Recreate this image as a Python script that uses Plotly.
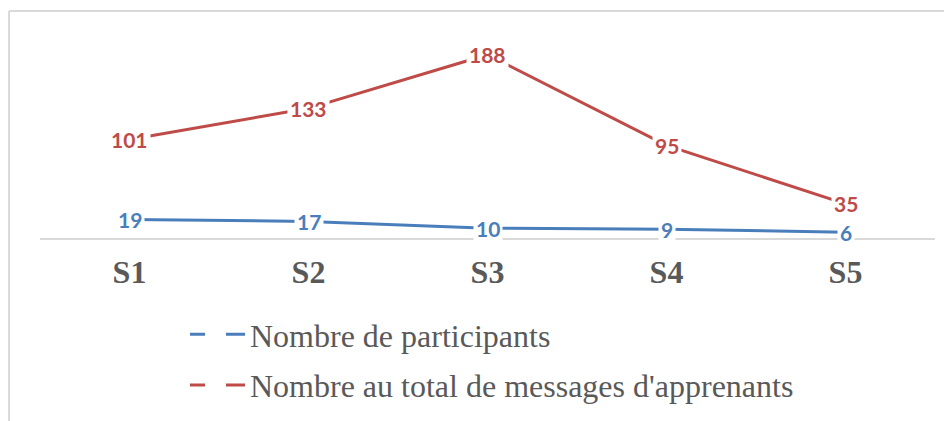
import plotly.graph_objects as go

categories = ["S1", "S2", "S3", "S4", "S5"]
participants = [19, 17, 10, 9, 6]
messages = [101, 133, 188, 95, 35]
series_names = ["Nombre de participants", "Nombre au total de messages d'apprenants"]

blue = "#4a7ebb"
red = "#be4b48"
gray_text = "#595959"

fig = go.Figure()

for vals, name, col in [(participants, series_names[0], blue), (messages, series_names[1], red)]:
    fig.add_trace(go.Scatter(x=categories, y=vals, mode="lines", name=name,
                             line=dict(color=col, width=3), showlegend=False,
                             hoverinfo="skip"))

# legend-only entries with dashed symbols
for name, col in [(series_names[0], blue), (series_names[1], red)]:
    fig.add_trace(go.Scatter(x=[None], y=[None], mode="lines", name=name,
                             line=dict(color=col, width=3, dash="15px,21px,19px"),
                             legendgroup=name))

annotations = []
for vals, col in [(participants, blue), (messages, red)]:
    for c, v in zip(categories, vals):
        annotations.append(dict(x=c, y=v, xref="x", yref="y", text=str(v), showarrow=False,
                                bgcolor="white", borderpad=2,
                                font=dict(family="Lato", size=21, color=col, weight="bold")))

fig.update_layout(
    width=944, height=413,
    margin=dict(l=32, r=17, t=35, b=183, autoexpand=False),
    paper_bgcolor="white", plot_bgcolor="white",
    showlegend=True,
    legend=dict(xref="container", yref="container", x=0.1875, xanchor="left",
                y=0.276, yanchor="top",
                font=dict(family="Liberation Serif", size=32, color=gray_text),
                itemwidth=55, tracegroupgap=6, bgcolor="rgba(0,0,0,0)"),
    annotations=annotations,
    shapes=[
        dict(type="line", xref="paper", yref="paper", x0=-0.0346, x1=-0.0346, y0=1.164, y1=-1.0,
             line=dict(color="#d9d9d9", width=2)),
        dict(type="line", xref="paper", yref="paper", x0=-0.0346, x1=1.1, y0=1.164, y1=1.164,
             line=dict(color="#d9d9d9", width=2)),
    ],
)
fig.update_xaxes(showline=True, linecolor="#d9d9d9", linewidth=2, showgrid=False, ticks="",
                 tickfont=dict(family="Liberation Serif", size=32, color=gray_text, weight="bold"),
                 ticklabelstandoff=5,
                 range=[-0.5, 4.5], zeroline=False)
fig.update_yaxes(range=[0, 200], showgrid=False, zeroline=False, showticklabels=False, showline=False)

fig.write_html("out.html")
